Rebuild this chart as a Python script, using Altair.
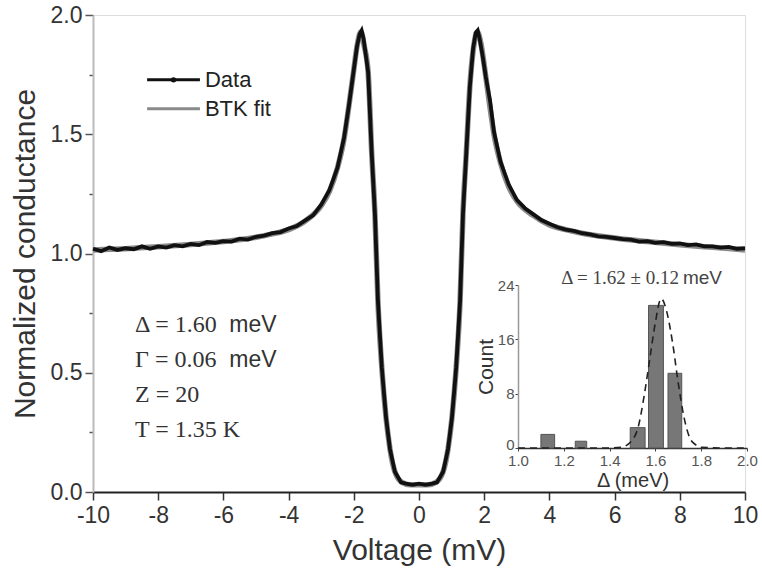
import altair as alt
import pandas as pd

# ---------------- main panel data ----------------
fit_v = [-10, -9, -8, -7, -6, -5, -4.5, -4, -3.5, -3.0, -2.75, -2.5, -2.3, -2.15, -2.0, -1.9, -1.78,
         -1.68, -1.56, -1.45, -1.35, -1.26, -1.14, -1.01, -0.89, -0.74, -0.52, -0.28, 0.0,
         0.28, 0.52, 0.74, 0.89, 1.01, 1.14, 1.26, 1.35, 1.45, 1.56, 1.68, 1.79, 1.9, 2.0,
         2.15, 2.3, 2.5, 2.75, 3.0, 3.5, 4.0, 4.5, 5, 6, 7, 8, 9, 10]
fit_g = [1.015, 1.02, 1.028, 1.038, 1.05, 1.068, 1.082, 1.10, 1.135, 1.20, 1.26, 1.36, 1.48, 1.62, 1.77, 1.87, 1.93,
         1.87, 1.76, 1.42, 1.16, 0.80, 0.52, 0.31, 0.18, 0.085, 0.04, 0.03, 0.03,
         0.03, 0.04, 0.085, 0.18, 0.31, 0.52, 0.80, 1.17, 1.42, 1.70, 1.87, 1.93, 1.88, 1.79,
         1.64, 1.50, 1.38, 1.28, 1.22, 1.16, 1.12, 1.10, 1.085, 1.065, 1.05, 1.037, 1.026, 1.015]

data_v = [-10, -9.75, -9.5, -9.25, -9, -8.75, -8.5, -8.25, -8, -7.75, -7.5, -7.25, -7, -6.75, -6.5, -6.25,
          -6, -5.75, -5.5, -5.25, -5, -4.75, -4.5, -4.25, -4, -3.75, -3.5, -3.25, -3, -2.75, -2.5, -2.3,
          -2.15, -2.0, -1.9, -1.82, -1.76, -1.7, -1.63, -1.56, -1.45, -1.35, -1.26, -1.14, -1.01, -0.89,
          -0.74, -0.55, -0.4, -0.2, 0.0, 0.2, 0.4, 0.55, 0.74, 0.89, 1.01, 1.14, 1.26, 1.35, 1.45, 1.56,
          1.66, 1.74, 1.8, 1.86, 1.95, 2.05, 2.18, 2.3, 2.5, 2.75, 3, 3.25, 3.5, 3.75, 4, 4.25, 4.5, 4.75,
          5, 5.25, 5.5, 5.75, 6, 6.25, 6.5, 6.75, 7, 7.25, 7.5, 7.75, 8, 8.25, 8.5, 8.75, 9, 9.25, 9.5,
          9.75, 10]
data_g = [1.02, 1.01, 1.025, 1.015, 1.022, 1.018, 1.03, 1.02, 1.03, 1.025, 1.035, 1.03, 1.04, 1.035, 1.048, 1.045,
          1.052, 1.05, 1.062, 1.058, 1.07, 1.075, 1.085, 1.09, 1.105, 1.115, 1.138, 1.16, 1.205, 1.265, 1.36, 1.485,
          1.62, 1.77, 1.87, 1.92, 1.935, 1.90, 1.83, 1.76, 1.42, 1.16, 0.80, 0.52, 0.31, 0.18,
          0.085, 0.04, 0.035, 0.03, 0.035, 0.03, 0.035, 0.04, 0.085, 0.18, 0.31, 0.52, 0.80, 1.17, 1.42, 1.70,
          1.86, 1.925, 1.935, 1.90, 1.83, 1.74, 1.64, 1.51, 1.385, 1.29, 1.225, 1.19, 1.165, 1.14, 1.125, 1.11, 1.10, 1.095,
          1.085, 1.08, 1.072, 1.07, 1.065, 1.06, 1.058, 1.05, 1.052, 1.045, 1.048, 1.04, 1.042, 1.035, 1.038, 1.03, 1.03, 1.025, 1.028,
          1.02, 1.022]

legend_labels = ["Data", "BTK fit"]
param_serif = ["\u0394 = 1.60", "\u0393 = 0.06", "Z = 20", "T = 1.35 K"]
param_unit = ["meV", "meV", "", ""]

# ---------------- inset data ----------------
bar_lo = [1.10, 1.25, 1.49, 1.57, 1.655]
bar_hi = [1.16, 1.30, 1.555, 1.635, 1.715]
bar_count = [2, 1, 3, 21, 11]
gauss_d = [1.0, 1.1, 1.2, 1.3, 1.4, 1.45, 1.5, 1.525, 1.55, 1.575, 1.6, 1.625, 1.65, 1.675, 1.7, 1.725, 1.75, 1.775, 1.8, 1.9, 2.0]
gauss_c = [0, 0, 0, 0, 0, 0.1, 1.2, 3.1, 7.5, 13, 18.5, 22, 20, 15.5, 9.5, 4.5, 1.5, 0.5, 0.1, 0, 0]
inset_title = "\u0394 = 1.62 \u00b1 0.12"

SANS = "Liberation Sans"
SERIF = "Liberation Serif"

fit_df = pd.DataFrame({"v": fit_v, "g": fit_g})
data_df = pd.DataFrame({"v": data_v, "g": data_g})

xs = alt.Scale(domain=[-10, 10], nice=False, zero=False)
ys = alt.Scale(domain=[0, 2], nice=False, zero=False)

x_axis = alt.Axis(
    values=list(range(-10, 11)), labelExpr="datum.value % 2 == 0 ? '' + datum.value : ''",
    title="Voltage (mV)", titleFont=SANS, titleFontSize=30, titleFontWeight="normal", titleColor="#333",
    titlePadding=8, labelFont=SANS, labelFontSize=23, labelColor="#333", labelPadding=4,
    tickSize={"condition": {"test": "datum.value % 2 != 0", "value": 4}, "value": 8},
    tickColor="#333", domainColor="#222", domainWidth=2, tickWidth=1.5, grid=False, labelFlush=False)
y_axis = alt.Axis(
    values=[0, 0.25, 0.5, 0.75, 1.0, 1.25, 1.5, 1.75, 2.0],
    labelExpr="(datum.value * 2) % 1 == 0 ? format(datum.value, '.1f') : ''",
    title="Normalized conductance", titleFont=SANS, titleFontSize=30, titleFontWeight="normal", titleColor="#333",
    titlePadding=10, labelFont=SANS, labelFontSize=23, labelColor="#333", labelPadding=3,
    tickSize={"condition": {"test": "(datum.value * 2) % 1 != 0", "value": 4}, "value": 8},
    tickColor="#555", domainColor="#bbb", domainWidth=2, tickWidth=1.5, grid=False, labelFlush=False)

fit_line = alt.Chart(fit_df).mark_line(color="#8a8a8a", strokeWidth=5.5, interpolate="monotone").encode(
    x=alt.X("v:Q", scale=xs, axis=x_axis), y=alt.Y("g:Q", scale=ys, axis=y_axis))
data_line = alt.Chart(data_df).mark_line(color="#111", strokeWidth=3.8).encode(
    x=alt.X("v:Q", scale=xs), y=alt.Y("g:Q", scale=ys))

# legend drawn inside the plot
leg_df = pd.DataFrame({"x0": [-8.34, -8.34], "x1": [-6.72, -6.72], "y": [1.728, 1.607],
                       "label": legend_labels, "col": ["#111", "#8a8a8a"]})
leg_lines = alt.Chart(leg_df).mark_rule(strokeWidth=3).encode(
    x=alt.X("x0:Q", scale=xs), x2="x1:Q", y=alt.Y("y:Q", scale=ys),
    color=alt.Color("col:N", scale=None))
leg_dot = alt.Chart(leg_df.iloc[[0]]).mark_point(filled=True, size=30, color="#111", opacity=1).encode(
    x=alt.X("mx:Q", scale=xs), y=alt.Y("y:Q", scale=ys)).transform_calculate(mx="(datum.x0 + datum.x1) / 2")
leg_text = alt.Chart(leg_df).mark_text(align="left", baseline="middle", font=SANS, fontSize=22, color="#222", dx=5).encode(
    x=alt.X("x1:Q", scale=xs), y=alt.Y("y:Q", scale=ys), text="label:N")

par_df = pd.DataFrame({"x": [-8.71] * 4, "xu": [-5.82] * 4, "y": [0.699, 0.552, 0.406, 0.259],
                       "s": param_serif, "u": param_unit})
par_serif = alt.Chart(par_df).mark_text(align="left", baseline="middle", font=SERIF, fontSize=24, color="#333").encode(
    x=alt.X("x:Q", scale=xs), y=alt.Y("y:Q", scale=ys), text="s:N")
par_unit = alt.Chart(par_df).mark_text(align="left", baseline="middle", font=SANS, fontSize=23, color="#333").encode(
    x=alt.X("xu:Q", scale=xs), y=alt.Y("y:Q", scale=ys), text="u:N")

main = alt.layer(fit_line, data_line, leg_lines, leg_dot, leg_text, par_serif, par_unit)

# ---------------- inset ----------------
ixs = alt.Scale(domain=[1.0, 2.0], range=[425, 654], nice=False, zero=False)
iys = alt.Scale(domain=[0, 24], range=[433, 270], nice=False, zero=False)

ix_axis = alt.Axis(orient="bottom", offset=-44, values=[1.0, 1.2, 1.4, 1.6, 1.8, 2.0], format=".1f",
                   title="\u0394 (meV)", titleFont=SANS, titleFontSize=20, titleFontWeight="normal", titleColor="#333",
                   titlePadding=2, labelFont=SANS, labelFontSize=15, labelColor="#555", labelPadding=2,
                   tickSize=3, tickColor="#444", domainColor="#333", domainWidth=1.5, grid=False, labelFlush=False)
iy_axis = alt.Axis(orient="left", offset=-425, values=[0, 8, 16, 24], format="d",
                   title="Count", titleFont=SANS, titleFontSize=21, titleFontWeight="normal", titleColor="#333",
                   titlePadding=1, labelFont=SANS, labelFontSize=15, labelColor="#555", labelPadding=1,
                   labelOffset={"condition": {"test": "datum.value == 0", "value": -4}, "value": 0},
                   tickSize=3, tickColor="#444", domainColor="#999", domainWidth=1.5, grid=False, labelFlush=False)

bars_df = pd.DataFrame({"lo": bar_lo, "hi": bar_hi, "n": bar_count})
gauss_df = pd.DataFrame({"d": gauss_d, "c": gauss_c})

bars = alt.Chart(bars_df).mark_rect(color="#777", stroke="#555", strokeWidth=1).encode(
    x=alt.X("lo:Q", scale=ixs, axis=ix_axis), x2="hi:Q",
    y=alt.Y("n:Q", scale=iys, axis=iy_axis), y2=alt.datum(0))
gauss = alt.Chart(gauss_df).mark_line(color="#222", strokeWidth=1.6, strokeDash=[7, 5], interpolate="monotone").encode(
    x=alt.X("d:Q", scale=ixs), y=alt.Y("c:Q", scale=iys))
ititle_df = pd.DataFrame({"x": [1.703], "xu": [1.72], "y": [25.0], "s": [inset_title], "u": ["meV"]})
ititle_s = alt.Chart(ititle_df).mark_text(align="right", baseline="middle", font=SERIF, fontSize=19, color="#444").encode(
    x=alt.X("x:Q", scale=ixs), y=alt.Y("y:Q", scale=iys), text="s:N")
ititle_u = alt.Chart(ititle_df).mark_text(align="left", baseline="middle", font=SANS, fontSize=19, color="#444").encode(
    x=alt.X("xu:Q", scale=ixs), y=alt.Y("y:Q", scale=iys), text="u:N")

inset = alt.layer(bars, gauss, ititle_s, ititle_u)

chart = alt.layer(main, inset).resolve_scale(x="independent", y="independent").properties(
    width=652, height=477,
    autosize=alt.AutoSizeParams(type="none"),
    padding={"left": 93, "top": 15, "right": 17, "bottom": 77},
).configure_view(stroke=None).configure(background="white")

chart.save("out.html", embed_options={"renderer": "svg", "actions": False})
